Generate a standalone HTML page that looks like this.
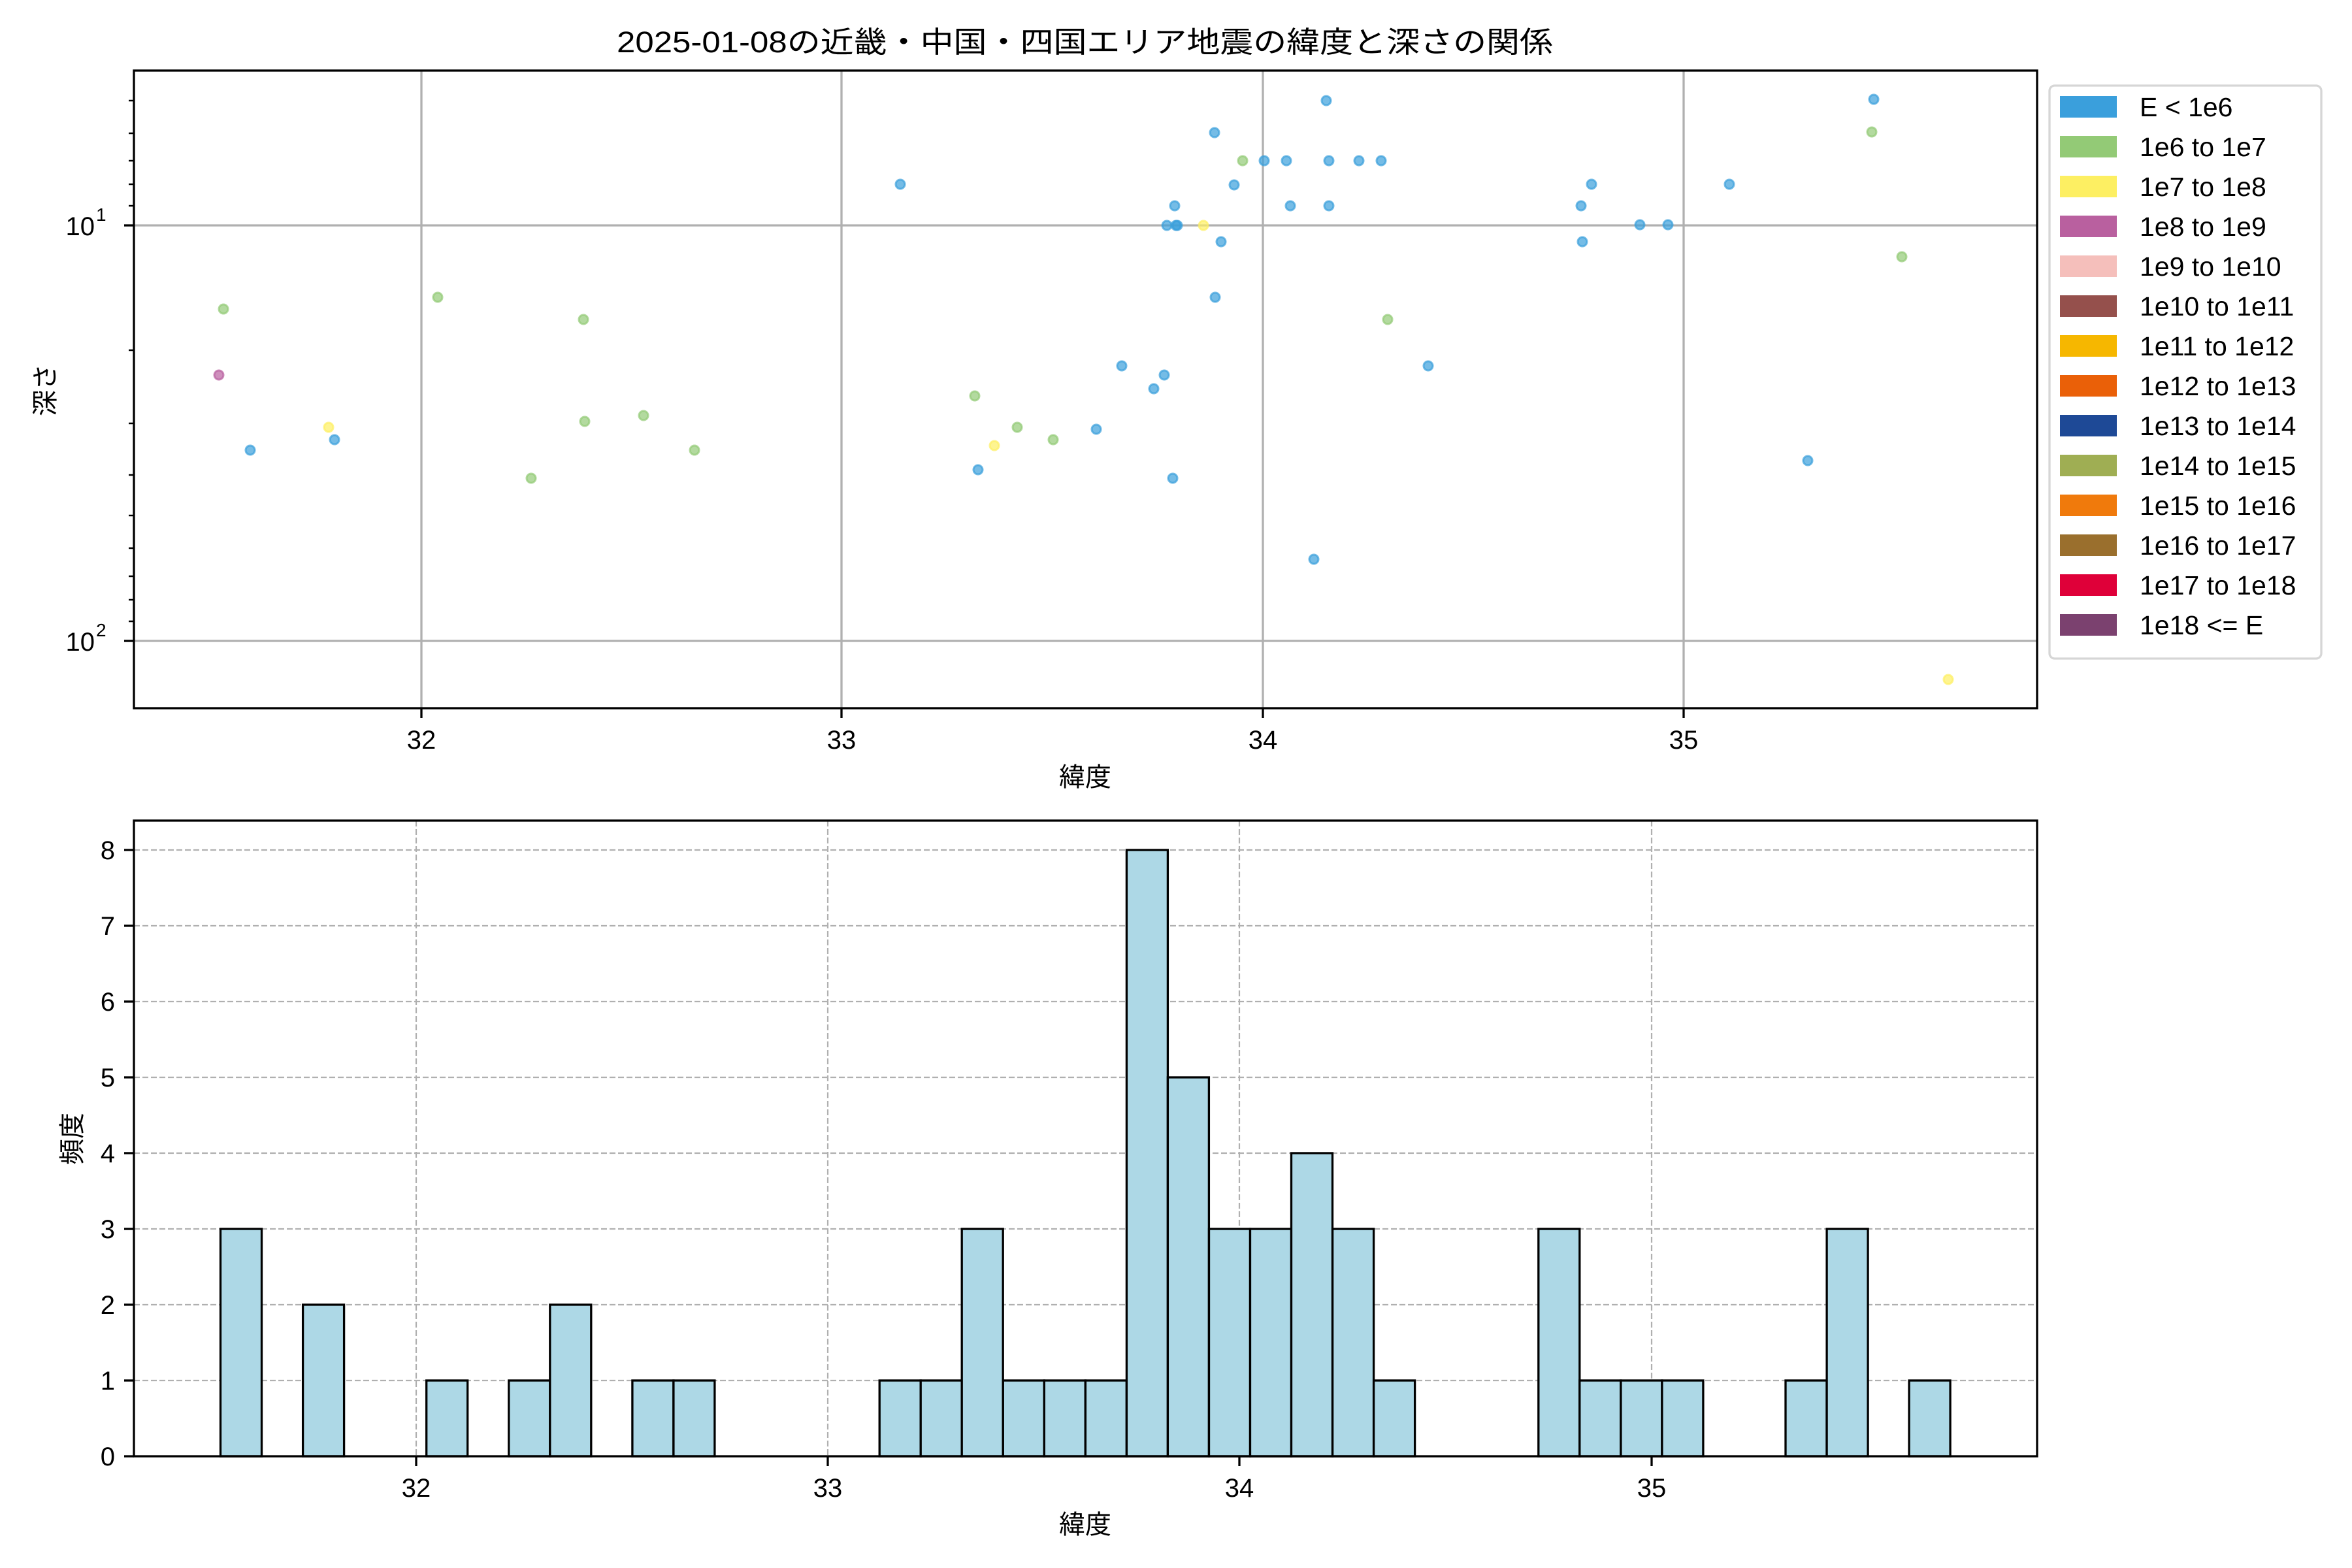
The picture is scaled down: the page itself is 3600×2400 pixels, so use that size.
<!DOCTYPE html>
<html><head><meta charset="utf-8"><style>html,body{margin:0;padding:0;background:#fff}svg{display:block}text{font-family:"Liberation Sans","Noto Sans CJK JP",sans-serif;fill:#000}</style></head>
<body>
<svg width="3600" height="2400" viewBox="0 0 3600 2400" xmlns="http://www.w3.org/2000/svg">
<rect width="3600" height="2400" fill="#fff"/>
<text x="944" y="80" font-size="45" textLength="1433" lengthAdjust="spacingAndGlyphs">2025-01-08の近畿・中国・四国エリア地震の緯度と深さの関係</text>

<!-- TOP SCATTER -->
<g stroke="#b0b0b0" stroke-width="3.3">
<line x1="645" y1="108" x2="645" y2="1084"/><line x1="1288" y1="108" x2="1288" y2="1084"/>
<line x1="1933" y1="108" x2="1933" y2="1084"/><line x1="2577" y1="108" x2="2577" y2="1084"/>
<line x1="205" y1="345" x2="3118" y2="345"/><line x1="205" y1="981" x2="3118" y2="981"/>
</g>
<g stroke-width="3" fill-opacity="0.7" stroke-opacity="0.7">
<g fill="#3a9fdc" stroke="#3a9fdc">
<circle cx="383" cy="689" r="7"/><circle cx="512" cy="673" r="7"/><circle cx="1378" cy="282" r="7"/><circle cx="1497" cy="719" r="7"/>
<circle cx="1717" cy="560" r="7"/><circle cx="1766" cy="595" r="7"/><circle cx="1782" cy="574" r="7"/><circle cx="1786" cy="345" r="7"/>
<circle cx="1798" cy="315" r="7"/><circle cx="1800" cy="345" r="7"/><circle cx="1802" cy="345" r="7"/><circle cx="1795" cy="732" r="7"/><circle cx="1859" cy="203" r="7"/>
<circle cx="1860" cy="455" r="7"/><circle cx="1869" cy="370" r="7"/><circle cx="1889" cy="283" r="7"/><circle cx="1935" cy="246" r="7"/>
<circle cx="1969" cy="246" r="7"/><circle cx="1975" cy="315" r="7"/><circle cx="2011" cy="856" r="7"/><circle cx="2030" cy="154" r="7"/>
<circle cx="2034" cy="246" r="7"/><circle cx="2034" cy="315" r="7"/><circle cx="2080" cy="246" r="7"/><circle cx="2114" cy="246" r="7"/>
<circle cx="2186" cy="560" r="7"/><circle cx="2420" cy="315" r="7"/><circle cx="2422" cy="370" r="7"/><circle cx="2436" cy="282" r="7"/>
<circle cx="2510" cy="344" r="7"/><circle cx="2553" cy="344" r="7"/><circle cx="2647" cy="282" r="7"/><circle cx="2767" cy="705" r="7"/>
<circle cx="2868" cy="152" r="7"/><circle cx="1678" cy="657" r="7"/>
</g>
<g fill="#93ca76" stroke="#93ca76">
<circle cx="342" cy="473" r="7"/><circle cx="670" cy="455" r="7"/><circle cx="893" cy="489" r="7"/><circle cx="895" cy="645" r="7"/>
<circle cx="985" cy="636" r="7"/><circle cx="1063" cy="689" r="7"/><circle cx="813" cy="732" r="7"/><circle cx="1492" cy="606" r="7"/>
<circle cx="1557" cy="654" r="7"/><circle cx="1612" cy="673" r="7"/><circle cx="1902" cy="246" r="7"/><circle cx="2124" cy="489" r="7"/>
<circle cx="2865" cy="202" r="7"/><circle cx="2911" cy="393" r="7"/>
</g>
<g fill="#fdef62" stroke="#fdef62">
<circle cx="503" cy="654" r="7"/><circle cx="1522" cy="682" r="7"/><circle cx="1842" cy="345" r="7"/><circle cx="2982" cy="1040" r="7"/>
</g>
<g fill="#b9609f" stroke="#b9609f"><circle cx="335" cy="574" r="7"/></g>
</g>
<rect x="205" y="108" width="2913" height="976" fill="none" stroke="#000" stroke-width="3.3"/>
<g stroke="#000" stroke-width="3.3">
<line x1="645" y1="1084" x2="645" y2="1099"/><line x1="1288" y1="1084" x2="1288" y2="1099"/>
<line x1="1933" y1="1084" x2="1933" y2="1099"/><line x1="2577" y1="1084" x2="2577" y2="1099"/>
<line x1="190" y1="345" x2="205" y2="345"/><line x1="190" y1="981" x2="205" y2="981"/>
</g>
<g stroke="#000" stroke-width="2.5">
<line x1="197" y1="154" x2="205" y2="154"/><line x1="197" y1="204" x2="205" y2="204"/><line x1="197" y1="246" x2="205" y2="246"/>
<line x1="197" y1="282" x2="205" y2="282"/><line x1="197" y1="315" x2="205" y2="315"/>
<line x1="197" y1="536" x2="205" y2="536"/><line x1="197" y1="648" x2="205" y2="648"/><line x1="197" y1="727" x2="205" y2="727"/>
<line x1="197" y1="789" x2="205" y2="789"/><line x1="197" y1="839" x2="205" y2="839"/><line x1="197" y1="882" x2="205" y2="882"/>
<line x1="197" y1="918" x2="205" y2="918"/><line x1="197" y1="951" x2="205" y2="951"/>
</g>
<g font-size="40" text-anchor="middle">
<text x="645" y="1146">32</text><text x="1288" y="1146">33</text><text x="1933" y="1146">34</text><text x="2577" y="1146">35</text>
</g>
<text x="145" y="360" font-size="40" text-anchor="end">10</text><text x="147" y="338" font-size="28">1</text>
<text x="145" y="996" font-size="40" text-anchor="end">10</text><text x="147" y="974" font-size="28">2</text>
<text x="1661" y="1203" font-size="40" text-anchor="middle">緯度</text>
<text transform="translate(83,597) rotate(-90)" font-size="40" text-anchor="middle">深さ</text>

<!-- LEGEND -->
<rect x="3137" y="131" width="416" height="877" rx="8" fill="#fff" stroke="#d6d6d6" stroke-width="3.3"/>
<g font-size="41">
<rect x="3153" y="147" width="87" height="33" fill="#3a9fdc"/><text x="3275" y="178">E &lt; 1e6</text>
<rect x="3153" y="208" width="87" height="33" fill="#93ca76"/><text x="3275" y="239">1e6 to 1e7</text>
<rect x="3153" y="269" width="87" height="33" fill="#fdef62"/><text x="3275" y="300">1e7 to 1e8</text>
<rect x="3153" y="330" width="87" height="33" fill="#b9609f"/><text x="3275" y="361">1e8 to 1e9</text>
<rect x="3153" y="391" width="87" height="33" fill="#f5bfbb"/><text x="3275" y="422">1e9 to 1e10</text>
<rect x="3153" y="452" width="87" height="33" fill="#95504c"/><text x="3275" y="483">1e10 to 1e11</text>
<rect x="3153" y="513" width="87" height="33" fill="#f6b700"/><text x="3275" y="544">1e11 to 1e12</text>
<rect x="3153" y="574" width="87" height="33" fill="#ea6008"/><text x="3275" y="605">1e12 to 1e13</text>
<rect x="3153" y="635" width="87" height="33" fill="#1e4996"/><text x="3275" y="666">1e13 to 1e14</text>
<rect x="3153" y="696" width="87" height="33" fill="#9fae53"/><text x="3275" y="727">1e14 to 1e15</text>
<rect x="3153" y="757" width="87" height="33" fill="#f07a0c"/><text x="3275" y="788">1e15 to 1e16</text>
<rect x="3153" y="818" width="87" height="33" fill="#9a6f2d"/><text x="3275" y="849">1e16 to 1e17</text>
<rect x="3153" y="879" width="87" height="33" fill="#df0039"/><text x="3275" y="910">1e17 to 1e18</text>
<rect x="3153" y="940" width="87" height="33" fill="#7b416f"/><text x="3275" y="971">1e18 &lt;= E</text>
</g>

<!-- BOTTOM HISTOGRAM -->
<g stroke="#b0b0b0" stroke-width="2.2" stroke-dasharray="9,4">
<line x1="637" y1="1256" x2="637" y2="2229"/><line x1="1267" y1="1256" x2="1267" y2="2229"/>
<line x1="1897" y1="1256" x2="1897" y2="2229"/><line x1="2528" y1="1256" x2="2528" y2="2229"/>
<line x1="205" y1="2113" x2="3118" y2="2113"/><line x1="205" y1="1997" x2="3118" y2="1997"/>
<line x1="205" y1="1881" x2="3118" y2="1881"/><line x1="205" y1="1765" x2="3118" y2="1765"/>
<line x1="205" y1="1649" x2="3118" y2="1649"/><line x1="205" y1="1533" x2="3118" y2="1533"/>
<line x1="205" y1="1417" x2="3118" y2="1417"/><line x1="205" y1="1301" x2="3118" y2="1301"/>
</g>
<g fill="#add8e6" stroke="#000" stroke-width="3.3">
<rect x="337.5" y="1881" width="63" height="348"/>
<rect x="463.6" y="1997" width="63" height="232"/>
<rect x="652.7" y="2113" width="63" height="116"/>
<rect x="778.8" y="2113" width="63" height="116"/>
<rect x="841.8" y="1997" width="63" height="232"/>
<rect x="967.9" y="2113" width="63" height="116"/>
<rect x="1030.9" y="2113" width="63" height="116"/>
<rect x="1346.2" y="2113" width="63" height="116"/>
<rect x="1409.2" y="2113" width="63" height="116"/>
<rect x="1472.2" y="1881" width="63" height="348"/>
<rect x="1535.3" y="2113" width="63" height="116"/>
<rect x="1598.3" y="2113" width="63" height="116"/>
<rect x="1661.4" y="2113" width="63" height="116"/>
<rect x="1724.4" y="1301" width="63" height="928"/>
<rect x="1787.4" y="1649" width="63" height="580"/>
<rect x="1850.5" y="1881" width="63" height="348"/>
<rect x="1913.5" y="1881" width="63" height="348"/>
<rect x="1976.5" y="1765" width="63" height="464"/>
<rect x="2039.6" y="1881" width="63" height="348"/>
<rect x="2102.6" y="2113" width="63" height="116"/>
<rect x="2354.8" y="1881" width="63" height="348"/>
<rect x="2417.8" y="2113" width="63" height="116"/>
<rect x="2480.9" y="2113" width="63" height="116"/>
<rect x="2543.9" y="2113" width="63" height="116"/>
<rect x="2733.0" y="2113" width="63" height="116"/>
<rect x="2796.1" y="1881" width="63" height="348"/>
<rect x="2922.1" y="2113" width="63" height="116"/>
</g>
<rect x="205" y="1256" width="2913" height="973" fill="none" stroke="#000" stroke-width="3.3"/>
<g stroke="#000" stroke-width="3.3">
<line x1="637" y1="2229" x2="637" y2="2244"/><line x1="1267" y1="2229" x2="1267" y2="2244"/>
<line x1="1897" y1="2229" x2="1897" y2="2244"/><line x1="2528" y1="2229" x2="2528" y2="2244"/>
<line x1="190" y1="2229" x2="205" y2="2229"/><line x1="190" y1="2113" x2="205" y2="2113"/><line x1="190" y1="1997" x2="205" y2="1997"/>
<line x1="190" y1="1881" x2="205" y2="1881"/><line x1="190" y1="1765" x2="205" y2="1765"/><line x1="190" y1="1649" x2="205" y2="1649"/>
<line x1="190" y1="1533" x2="205" y2="1533"/><line x1="190" y1="1417" x2="205" y2="1417"/><line x1="190" y1="1301" x2="205" y2="1301"/>
</g>
<g font-size="40" text-anchor="middle">
<text x="637" y="2291">32</text><text x="1267" y="2291">33</text><text x="1897" y="2291">34</text><text x="2528" y="2291">35</text>
</g>
<g font-size="40" text-anchor="end">
<text x="176" y="2243">0</text><text x="176" y="2127">1</text><text x="176" y="2011">2</text><text x="176" y="1895">3</text>
<text x="176" y="1779">4</text><text x="176" y="1663">5</text><text x="176" y="1547">6</text><text x="176" y="1431">7</text><text x="176" y="1315">8</text>
</g>
<text x="1661" y="2347" font-size="40" text-anchor="middle">緯度</text>
<text transform="translate(124,1743) rotate(-90)" font-size="40" text-anchor="middle">頻度</text>
</svg>
</body></html>
